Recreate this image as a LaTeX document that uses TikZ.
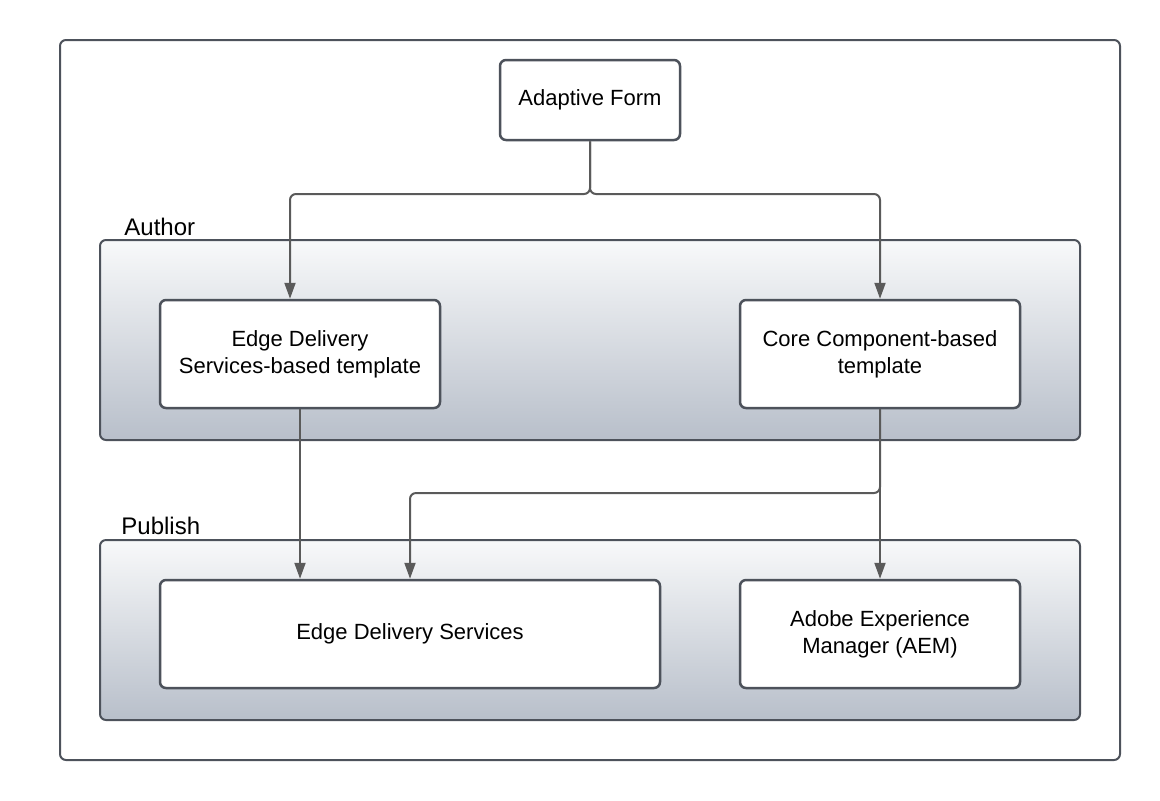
\documentclass[tikz,border=0pt]{standalone}
\usepackage{fontspec}
\setmainfont{Liberation Sans}
\usetikzlibrary{arrows.meta}
\definecolor{bordc}{HTML}{4D525B}
\definecolor{linec}{HTML}{5A5A5A}
\definecolor{shtop}{HTML}{F8F9FA}
\definecolor{shbot}{HTML}{B8BFCA}
\begin{document}
\begin{tikzpicture}[x=0.5pt,y=-0.5pt,
  font=\fontsize{11}{13.3}\selectfont,
  box/.style={draw=bordc, line width=1.25pt, rounded corners=3pt, fill=white, align=center, inner sep=0pt},
  cont/.style={draw=bordc, line width=1pt, rounded corners=3pt, top color=shtop, bottom color=shbot},
  conn/.style={draw=linec, line width=1pt, rounded corners=3pt, -{Triangle[length=8pt,width=5.5pt]}},
  lbl/.style={anchor=base west, inner sep=0pt, font=\fontsize{12}{14}\selectfont}]
\useasboundingbox (0,0) rectangle (1160,800);
\draw[draw=bordc, line width=1pt, rounded corners=3pt] (60,40) rectangle (1120,760);
\draw[cont] (100,240) rectangle (1080,440);
\draw[cont] (100,540) rectangle (1080,720);
\node[lbl] (authorlbl) at (124,235) {Author};
\node[lbl] (publishlbl) at (121,534) {Publish};
\node[box, minimum width=90pt, minimum height=40pt] (af) at (590,100) {Adaptive Form};
\node[box, minimum width=140pt, minimum height=54pt] (edst) at (300,354) {Edge Delivery\\Services-based template};
\node[box, minimum width=140pt, minimum height=54pt] (cct) at (880,354) {Core Component-based\\template};
\node[box, minimum width=250pt, minimum height=54pt] (eds) at (410,634) {Edge Delivery Services};
\node[box, minimum width=140pt, minimum height=54pt] (aem) at (880,634) {Adobe Experience\\Manager (AEM)};
\draw[conn] (af.south) -- (590,194) -| ([xshift=-5pt]edst.north);
\draw[conn] (af.south) -- (590,194) -| (cct.north);
\draw[conn] (edst.south) -- (edst.south |- eds.north);
\draw[conn] (cct.south) -- (aem.north);
\draw[conn] (cct.south) -- (880,493) -| (eds.north);
\end{tikzpicture}
\end{document}
